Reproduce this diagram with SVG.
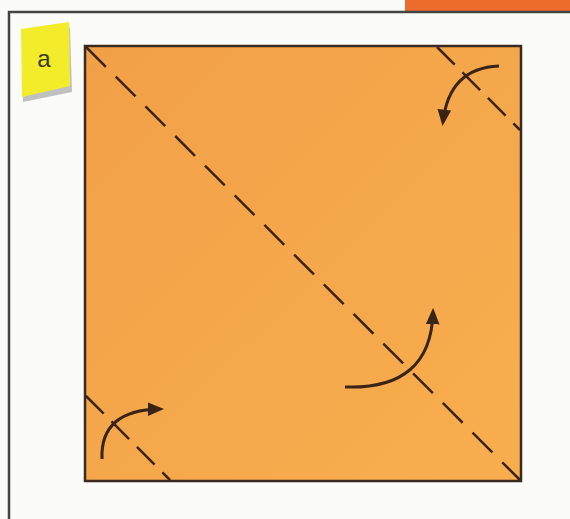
<svg xmlns="http://www.w3.org/2000/svg" width="570" height="519" viewBox="0 0 570 519">
<defs>
<linearGradient id="og" x1="0" y1="0" x2="1" y2="1">
<stop offset="0" stop-color="#F2A048"/>
<stop offset="1" stop-color="#F8AE4E"/>
</linearGradient>
<marker id="ah" viewBox="0 0 12 10" refX="9" refY="5" markerWidth="5.5" markerHeight="4.6" orient="auto" markerUnits="strokeWidth">
<path d="M0,0 L12,5 L0,10 Z" fill="#3a2416"/>
</marker>
<style>
.fold{fill:none;stroke:#3a2416;stroke-width:2.5;stroke-dasharray:28 14}
.corner{stroke-dasharray:25 11}
.arr{fill:none;stroke:#3a2416;stroke-width:3;marker-end:url(#ah)}
</style>
</defs>
<rect width="570" height="519" fill="#fbfbfa"/>
<rect x="405" y="0" width="165" height="11" fill="#EE6B2E"/>
<path d="M9,530 V12 H580" fill="none" stroke="#444" stroke-width="2.5"/>
<g id="tag">
<polygon points="23,33 70,27 72,92 23,102" fill="#9a9a9a" opacity="0.6"/>
<polygon points="21,29 69,22 70,86 22,97" fill="#F2EC2A"/>
<text x="44" y="67" font-family="Liberation Sans, Arial, sans-serif" font-size="24" fill="#3a3a1a" text-anchor="middle">a</text>
</g>
<g id="paper">
<rect x="85" y="46" width="436" height="435" fill="url(#og)" stroke="#3a2a20" stroke-width="2.5"/>
</g>
<g id="connectors">
<line class="fold" x1="86" y1="47" x2="520" y2="480"/>
<line class="fold corner" x1="437" y1="47" x2="520" y2="130"/>
<line class="fold corner" x1="86" y1="396" x2="170" y2="480"/>
<path class="arr" d="M499,66 Q449,68 443,122"/>
<path class="arr" d="M345,387 Q431,390 433,312"/>
<path class="arr" d="M102,459 Q100,410 160,409"/>
</g>
</svg>
